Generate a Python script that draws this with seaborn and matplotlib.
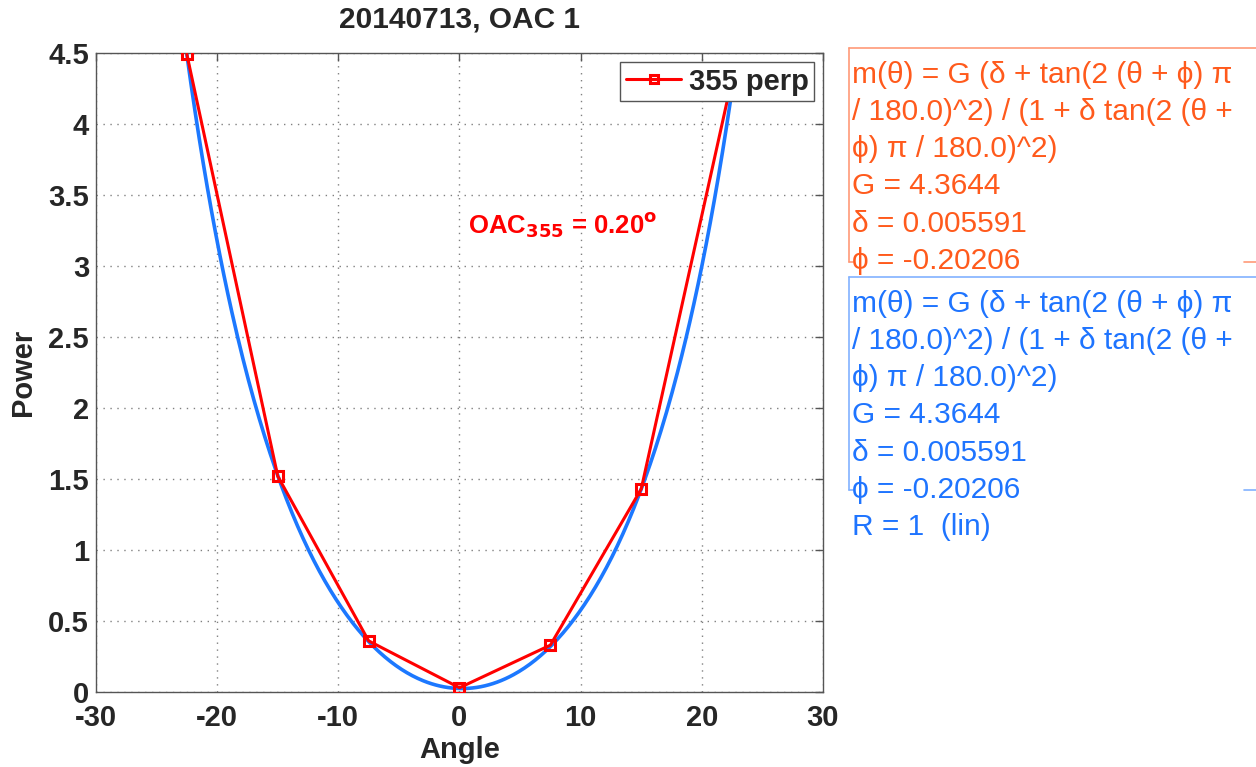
import numpy as np
import pandas as pd
import matplotlib
matplotlib.use("Agg")
import matplotlib.pyplot as plt
import seaborn as sns
from matplotlib.lines import Line2D

# ---- data ----
angles = [-22.5, -15.0, -7.5, 0.0, 7.5, 15.0, 22.5]
power = [4.49, 1.52, 0.36, 0.03, 0.33, 1.43, 4.32]
fit_G = 4.3644
fit_delta = 0.005591
fit_phi = -0.20206
series_label = "355 perp"
title = "20140713, OAC 1"
x_ticks = [-30, -20, -10, 0, 10, 20, 30]
y_ticks = [0, 0.5, 1, 1.5, 2, 2.5, 3, 3.5, 4, 4.5]
y_tick_labels = ["0", "0.5", "1", "1.5", "2", "2.5", "3", "3.5", "4", "4.5"]

PHI = "\u03d5"
fit_lines = [
    "m(\u03b8) = G (\u03b4 + tan(2 (\u03b8 + " + PHI + ") \u03c0",
    "/ 180.0)^2) / (1 + \u03b4 tan(2 (\u03b8 +",
    PHI + ") \u03c0 / 180.0)^2)",
    "G = 4.3644",
    "\u03b4 = 0.005591",
    PHI + " = -0.20206",
]
fit_extra = "R = 1  (lin)"

# fitted model curve, from the fit parameters shown on the chart
theta = np.linspace(-22.5, 22.5, 400)
t2 = np.tan(2 * (theta + fit_phi) * np.pi / 180.0) ** 2
model = fit_G * (fit_delta + t2) / (1 + fit_delta * t2)

sns.set_style("white")
plt.rcParams["font.family"] = ["Liberation Sans", "DejaVu Sans"]

W, H = 1256, 767
fig = plt.figure(figsize=(W / 100, H / 100), dpi=100)
ax = fig.add_axes([96 / W, 1 - 692 / H, (823 - 96) / W, (692 - 53) / H])

red = "#FF0000"
blue = "#1C78FF"

df_fit = pd.DataFrame({"Angle": theta, "Power": model})
df_pts = pd.DataFrame({"Angle": angles, "Power": power})

sns.lineplot(data=df_fit, x="Angle", y="Power", ax=ax, color=blue, lw=2.6,
             sort=False, zorder=2)
sns.lineplot(data=df_pts, x="Angle", y="Power", ax=ax, color=red, lw=2.2,
             marker="s", markersize=7, markerfacecolor="none",
             markeredgecolor=red, markeredgewidth=2.2, sort=False, zorder=3)

ax.set_xlim(-30, 30)
ax.set_ylim(0, 4.5)
ax.set_xticks(x_ticks)
ax.set_yticks(y_ticks)
ax.set_xticklabels([str(v) for v in x_ticks])
ax.set_yticklabels(y_tick_labels)
ax.grid(True, linestyle=(0, (1, 4)), color="#808080", linewidth=1.0)
for s in ax.spines.values():
    s.set_color("#555555")
    s.set_linewidth(1.0)
ax.tick_params(direction="in", length=6, width=1, color="#555555",
               top=True, right=True, labelsize=21)
ax.tick_params(axis="x", pad=8.5)
ax.tick_params(axis="y", pad=5)
for lab in ax.get_xticklabels() + ax.get_yticklabels():
    lab.set_fontweight("bold")

ax.set_xlabel("Angle", fontsize=21, fontweight="bold", labelpad=3)
ax.set_ylabel("Power", fontsize=21, fontweight="bold", labelpad=8)
ax.set_title(title, fontsize=21.5, fontweight="bold", pad=18)

ax.text(0.7, 3.29, r"OAC$_{\mathbf{355}}$ = 0.20$^{\mathbf{o}}$", color=red,
        fontsize=18.5, fontweight="bold", ha="left", va="center")

handle = Line2D([], [], color=red, lw=2.2, marker="s", markersize=6,
                markerfacecolor="none", markeredgecolor=red, markeredgewidth=2.2)
leg = ax.legend([handle], [series_label], loc="upper right",
                prop={"weight": "bold", "size": 21}, frameon=True, fancybox=False,
                framealpha=1.0, borderaxespad=0.3, handlelength=1.9,
                borderpad=0.2, handletextpad=0.25)
leg.get_frame().set_edgecolor("#555555")
leg.get_frame().set_linewidth(1.0)
leg.set_zorder(20)

# ---- fit text boxes (figure coordinates) ----
def fx(px):
    return px / W

def fy(py):
    return 1 - py / H

orange_txt = "#FF5A1C"
orange_box = "#FF9A78"
blue_txt = "#1E74FF"
blue_box = "#82B2FF"

fig.text(fx(852), fy(61), "\n".join(fit_lines), color=orange_txt, fontsize=21.5,
         ha="left", va="top", linespacing=1.415)
fig.text(fx(852), fy(290), "\n".join(fit_lines + [fit_extra]), color=blue_txt,
         fontsize=21.5, ha="left", va="top", linespacing=1.415)

def frame(top, bottom, col):
    fig.add_artist(Line2D([fx(849), fx(1256)], [fy(top), fy(top)], color=col, lw=1.2))
    fig.add_artist(Line2D([fx(849), fx(849)], [fy(top), fy(bottom)], color=col, lw=1.2))
    fig.add_artist(Line2D([fx(849), fx(853)], [fy(bottom), fy(bottom)], color=col, lw=1.2))
    fig.add_artist(Line2D([fx(1244), fx(1256)], [fy(bottom), fy(bottom)], color=col, lw=1.2))

frame(48, 262, orange_box)
frame(277, 490, blue_box)

fig.savefig("out.png", dpi=100)
